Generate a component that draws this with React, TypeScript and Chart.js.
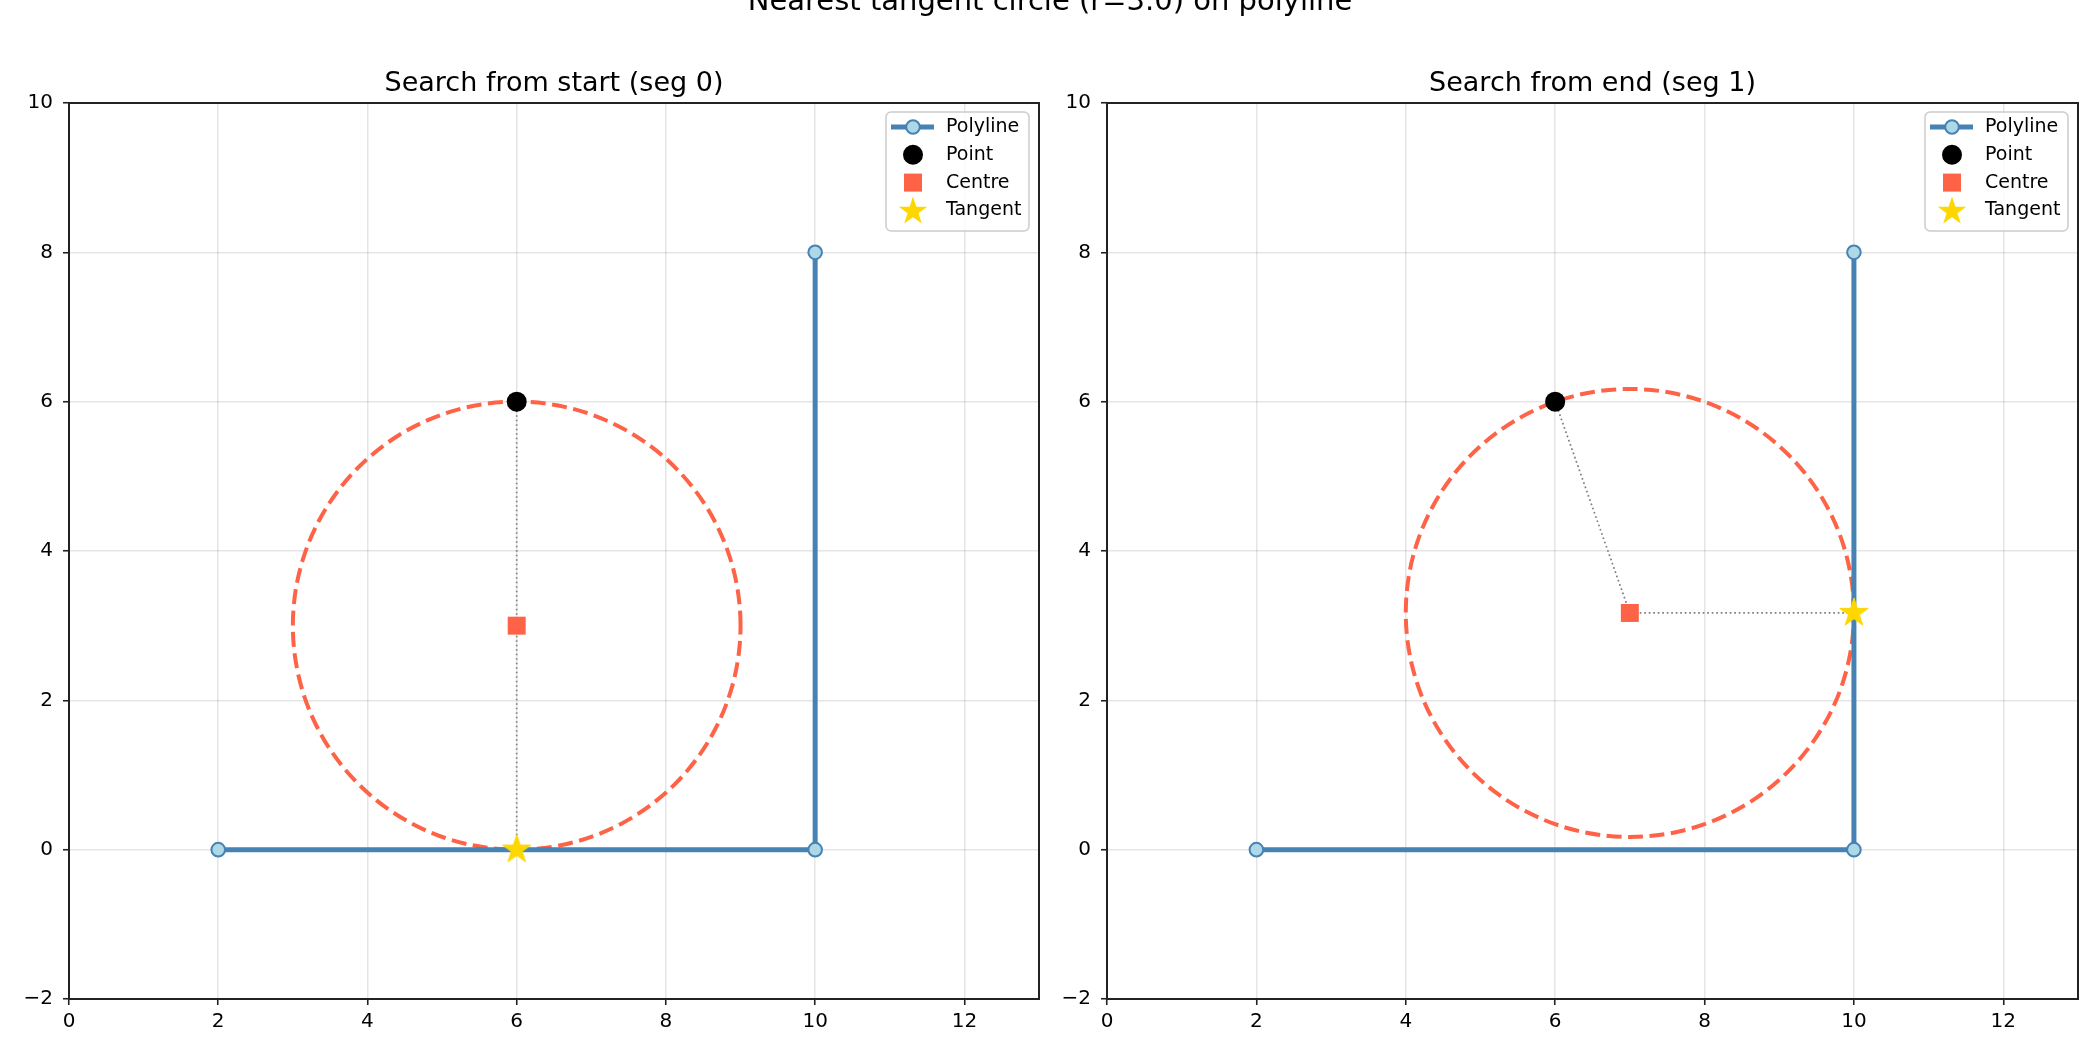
import React, { useEffect, useRef } from 'react'
import { Chart, registerables } from 'chart.js'

Chart.register(...registerables)

const FONT = "'DejaVu Sans', sans-serif"

// text
const SUPTITLE = 'Nearest tangent circle (r=3.0) on polyline'
const PANEL_TITLES = ['Search from start (seg 0)', 'Search from end (seg 1)']
const LEGEND_LABELS = ['Polyline', 'Point', 'Centre', 'Tangent']

// data (one entry per panel where it differs)
const POLY_X = [2, 10, 10]
const POLY_Y = [0, 0, 8]
const POINT_X = [6, 6]
const POINT_Y = [6, 6]
const CENTRE_X = [6, 7]
const CENTRE_Y = [3, 3.17]
const TANGENT_X = [6, 10]
const TANGENT_Y = [0, 3.17]
const RADIUS = [3.0, 3.0]

// axes
const X_RANGE = [0, 13]
const Y_RANGE = [-2, 10]
const X_TICKS = [0, 2, 4, 6, 8, 10, 12]
const Y_TICKS = [-2, 0, 2, 4, 6, 8, 10]

const STEEL = '#4682b4'
const LIGHT = '#add8e6'
const TOMATO = '#ff6347'
const GOLD = '#ffd700'

const STAR_R = 15

function starPath(ctx: CanvasRenderingContext2D, cx: number, cy: number, R: number) {
  const r = R * 0.381966
  ctx.beginPath()
  for (let i = 0; i < 10; i++) {
    const a = -Math.PI / 2 + (i * Math.PI) / 5
    const rad = i % 2 === 0 ? R : r
    const px = cx + rad * Math.cos(a)
    const py = cy + rad * Math.sin(a)
    if (i === 0) ctx.moveTo(px, py)
    else ctx.lineTo(px, py)
  }
  ctx.closePath()
}

function makeStarImage(R: number) {
  const size = Math.ceil(R * 2 + 4)
  const c = document.createElement('canvas')
  c.width = size
  c.height = size
  const ctx = c.getContext('2d')!
  starPath(ctx, size / 2, size / 2, R)
  ctx.fillStyle = GOLD
  ctx.fill()
  ctx.strokeStyle = GOLD
  ctx.lineWidth = 1
  ctx.stroke()
  return c
}

const fmtTick = (v: number | string) => {
  const n = Number(v)
  return n < 0 ? '\u2212' + Math.abs(n) : String(n)
}

interface PanelProps {
  idx: number
  left: number
  width: number
  yAxisWidth: number
  rightPad: number
}

function Panel({ idx, left, width, yAxisWidth, rightPad }: PanelProps) {
  const canvasRef = useRef<HTMLCanvasElement>(null)

  useEffect(() => {
    const canvas = canvasRef.current
    if (!canvas) return

    const star = makeStarImage(STAR_R)
    const pt = { x: POINT_X[idx], y: POINT_Y[idx] }
    const centre = { x: CENTRE_X[idx], y: CENTRE_Y[idx] }
    const tangent = { x: TANGENT_X[idx], y: TANGENT_Y[idx] }

    const circlePlugin = {
      id: 'circle',
      beforeDatasetsDraw(chart: any) {
        const { ctx, chartArea: a, scales } = chart
        const xs = scales.x
        const ys = scales.y
        const cx = xs.getPixelForValue(centre.x)
        const cy = ys.getPixelForValue(centre.y)
        const rx = Math.abs(xs.getPixelForValue(centre.x + RADIUS[idx]) - cx)
        const ry = Math.abs(ys.getPixelForValue(centre.y + RADIUS[idx]) - cy)
        ctx.save()
        ctx.beginPath()
        ctx.rect(a.left, a.top, a.right - a.left, a.bottom - a.top)
        ctx.clip()
        ctx.beginPath()
        ctx.ellipse(cx, cy, rx, ry, 0, 0, -Math.PI * 2, true)
        ctx.setLineDash([15, 6.5])
        ctx.lineWidth = 4
        ctx.strokeStyle = TOMATO
        ctx.stroke()
        ctx.restore()
      },
    }

    const framePlugin = {
      id: 'frame',
      afterDatasetsDraw(chart: any) {
        const { ctx, chartArea: a } = chart
        ctx.save()
        ctx.strokeStyle = '#222222'
        ctx.lineWidth = 2
        ctx.strokeRect(a.left, a.top, a.right - a.left, a.bottom - a.top)
        ctx.restore()
      },
      afterDraw(chart: any) {
        const { ctx, chartArea: a } = chart
        ctx.save()
        // panel title
        ctx.fillStyle = '#000'
        ctx.font = `27px ${FONT}`
        ctx.textAlign = 'center'
        ctx.textBaseline = 'alphabetic'
        ctx.fillText(PANEL_TITLES[idx], (a.left + a.right) / 2, a.top - 12)

        // legend
        const boxW = 143
        const boxH = 119
        const bx = a.right - 10 - boxW
        const by = a.top + 9
        ctx.beginPath()
        ctx.roundRect(bx, by, boxW, boxH, 5)
        ctx.fillStyle = 'rgba(255,255,255,0.8)'
        ctx.fill()
        ctx.strokeStyle = '#cccccc'
        ctx.lineWidth = 1.5
        ctx.stroke()

        const mx = bx + 27
        LEGEND_LABELS.forEach((label, i) => {
          const ry = by + 15 + i * 27.8
          if (i === 0) {
            ctx.beginPath()
            ctx.moveTo(bx + 5, ry)
            ctx.lineTo(bx + 48, ry)
            ctx.strokeStyle = STEEL
            ctx.lineWidth = 5
            ctx.stroke()
            ctx.beginPath()
            ctx.arc(mx, ry, 6.8, 0, Math.PI * 2)
            ctx.fillStyle = LIGHT
            ctx.fill()
            ctx.strokeStyle = STEEL
            ctx.lineWidth = 2
            ctx.stroke()
          } else if (i === 1) {
            ctx.beginPath()
            ctx.arc(mx, ry, 10, 0, Math.PI * 2)
            ctx.fillStyle = '#000'
            ctx.fill()
          } else if (i === 2) {
            ctx.fillStyle = TOMATO
            ctx.fillRect(mx - 9, ry - 9, 18, 18)
          } else {
            starPath(ctx, mx, ry + 1, STAR_R)
            ctx.fillStyle = GOLD
            ctx.fill()
          }
          ctx.fillStyle = '#000'
          ctx.font = `19px ${FONT}`
          ctx.textAlign = 'left'
          ctx.textBaseline = 'middle'
          ctx.fillText(label, bx + 60, ry)
        })
        ctx.restore()
      },
    }

    const grid = {
      color: 'rgba(0,0,0,0.1)',
      lineWidth: 1.5,
      drawTicks: true,
      tickLength: 6,
      tickColor: '#222222',
      tickWidth: 1.6,
    }
    const tickFont = { family: FONT, size: 20 }

    const chart = new Chart(canvas, {
      type: 'scatter',
      data: {
        datasets: [
          {
            label: 'Polyline',
            data: POLY_X.map((x, i) => ({ x, y: POLY_Y[i] })),
            showLine: true,
            borderColor: STEEL,
            borderWidth: 5,
            pointRadius: 6.8,
            pointBackgroundColor: LIGHT,
            pointBorderColor: STEEL,
            pointBorderWidth: 2,
            order: 4,
          },
          {
            label: 'link',
            data: [pt, centre, tangent],
            showLine: true,
            borderColor: '#7f7f7f',
            borderWidth: 1.7,
            borderDash: [1.7, 2.8],
            pointRadius: 0,
            order: 3,
          },
          {
            label: 'Point',
            data: [pt],
            pointRadius: 10,
            pointBackgroundColor: '#000',
            pointBorderWidth: 0,
            order: 2,
          },
          {
            label: 'Centre',
            data: [centre],
            pointStyle: 'rect',
            pointRadius: 12.7,
            pointBackgroundColor: TOMATO,
            pointBorderWidth: 0,
            order: 1,
          },
          {
            label: 'Tangent',
            data: [tangent],
            pointStyle: star,
            pointRadius: STAR_R,
            order: 0,
          },
        ],
      } as any,
      options: {
        animation: false,
        responsive: false,
        maintainAspectRatio: false,
        events: [],
        layout: { padding: { left: 0, right: rightPad, top: 103, bottom: 0 } },
        plugins: {
          legend: { display: false },
          tooltip: { enabled: false },
          title: { display: false },
        },
        scales: {
          x: {
            type: 'linear',
            min: X_RANGE[0],
            max: X_RANGE[1],
            afterBuildTicks: (s: any) => {
              s.ticks = X_TICKS.map(v => ({ value: v }))
            },
            afterFit: (s: any) => {
              s.height = 51
              s.paddingLeft = 0
              s.paddingRight = 0
            },
            grid,
            border: { display: false },
            ticks: { color: '#000', font: tickFont, padding: 5, maxRotation: 0, callback: fmtTick },
          },
          y: {
            type: 'linear',
            min: Y_RANGE[0],
            max: Y_RANGE[1],
            afterBuildTicks: (s: any) => {
              s.ticks = Y_TICKS.map(v => ({ value: v }))
            },
            afterFit: (s: any) => {
              s.width = yAxisWidth
              s.paddingTop = 0
              s.paddingBottom = 0
            },
            grid,
            border: { display: false },
            ticks: { color: '#000', font: tickFont, padding: 10, callback: fmtTick },
          },
        },
      } as any,
      plugins: [circlePlugin, framePlugin],
    })

    return () => {
      chart.destroy()
    }
  }, [idx, yAxisWidth, rightPad])

  return (
    <canvas
      ref={canvasRef}
      width={width}
      height={1050}
      style={{ position: 'absolute', left, top: 0, width, height: 1050 }}
    />
  )
}

export default function App() {
  return (
    <div
      style={{
        position: 'fixed',
        left: 0,
        top: 0,
        width: 2100,
        height: 1050,
        background: '#fff',
        overflow: 'hidden',
      }}
    >
      <Panel idx={0} left={0} width={1060} yAxisWidth={69} rightPad={21} />
      <Panel idx={1} left={1045} width={1055} yAxisWidth={62} rightPad={22} />
      <div
        style={{
          position: 'absolute',
          left: 0,
          top: -14.5,
          width: 2100,
          textAlign: 'center',
          fontFamily: FONT,
          fontSize: 29,
          lineHeight: '29px',
          color: '#000',
          whiteSpace: 'nowrap',
        }}
      >
        {SUPTITLE}
      </div>
    </div>
  )
}
